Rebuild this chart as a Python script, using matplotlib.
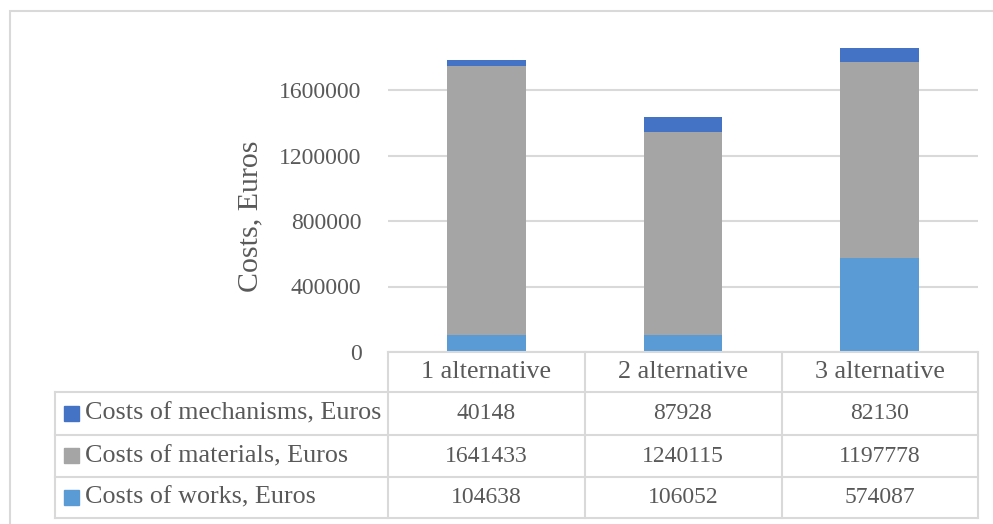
import matplotlib.pyplot as plt
import matplotlib.patches as mpatches
from matplotlib.transforms import blended_transform_factory
import numpy as np

plt.rcParams['font.family'] = ['Liberation Serif', 'DejaVu Serif']

alternatives = ["1 alternative", "2 alternative", "3 alternative"]
series_names = ["Costs of mechanisms, Euros", "Costs of materials, Euros", "Costs of works, Euros"]
works = [104638, 106052, 574087]
materials = [1641433, 1240115, 1197778]
mechanisms = [40148, 87928, 82130]

c_works = "#5B9BD5"
c_materials = "#A5A5A5"
c_mech = "#4472C4"
txt = "#595959"
grid = "#D9D9D9"

num_size = 17
word_size = 18.8

W, H = 993, 524
fig = plt.figure(figsize=(W / 100, H / 100), dpi=100)

def fx(px):
    return px / W

def fy(py):
    return 1 - py / H

# outer chart frame
fig.patches.append(mpatches.Rectangle((fx(10), fy(600)), fx(1100), fy(11) - fy(600),
                                      transform=fig.transFigure, fill=False,
                                      edgecolor=grid, lw=1.5))

ax = fig.add_axes([fx(388), fy(352), fx(978) - fx(388), fy(24.5) - fy(352)])
x = np.arange(len(alternatives))
ax.bar(x, works, width=0.4, color=c_works, zorder=3)
ax.bar(x, materials, width=0.4, bottom=works, color=c_materials, zorder=3)
ax.bar(x, mechanisms, width=0.4, bottom=np.add(works, materials), color=c_mech, zorder=3)

ax.set_xlim(-0.5, 2.5)
ax.set_ylim(0, 2000000)
ax.set_yticks([0, 400000, 800000, 1200000, 1600000])
ax.set_yticklabels(["0", "400000", "800000", "1200000", "1600000"])
ax.tick_params(axis='y', length=0, pad=19, labelsize=num_size, labelcolor=txt)
ax.set_xticks([])
for s in ax.spines.values():
    s.set_visible(False)
ax.yaxis.grid(True, color=grid, lw=1.5, zorder=0)
ax.set_axisbelow(True)
ax.set_ylabel("Costs, Euros", fontsize=21.5, color=txt)
ax.yaxis.set_label_coords(-0.212, 0.415)

# data table under the plot
rows_y = [352, 392, 435, 477, 518]
col_x = [55, 388, 585, 782, 978]
lw = 1.5
fig.add_artist(plt.Line2D([fx(388), fx(978)], [fy(352), fy(352)], color=grid, lw=lw))
for yy in rows_y[1:]:
    fig.add_artist(plt.Line2D([fx(55), fx(978)], [fy(yy), fy(yy)], color=grid, lw=lw))
fig.add_artist(plt.Line2D([fx(55), fx(55)], [fy(392), fy(518)], color=grid, lw=lw))
for xx in col_x[1:]:
    fig.add_artist(plt.Line2D([fx(xx), fx(xx)], [fy(352), fy(518)], color=grid, lw=lw))

trans = blended_transform_factory(ax.transData, fig.transFigure)
for i, name in enumerate(alternatives):
    fig.text(x[i], fy((rows_y[0] + rows_y[1]) / 2), name, transform=trans,
             ha='center', va='center', fontsize=word_size, color=txt)

table_rows = [mechanisms, materials, works]
row_colors = [c_mech, c_materials, c_works]
for r, (name, vals, col) in enumerate(zip(series_names, table_rows, row_colors)):
    yc = fy((rows_y[r + 1] + rows_y[r + 2]) / 2)
    fig.patches.append(mpatches.Rectangle((fx(64), yc - 7 / H), 15 / W, 15 / H,
                                          transform=fig.transFigure, color=col))
    fig.text(fx(85), yc, name, ha='left', va='center', fontsize=word_size, color=txt)
    for i, v in enumerate(vals):
        fig.text(x[i], yc, str(v), transform=trans, ha='center', va='center',
                 fontsize=num_size, color=txt)

fig.savefig("out.png", dpi=100)
